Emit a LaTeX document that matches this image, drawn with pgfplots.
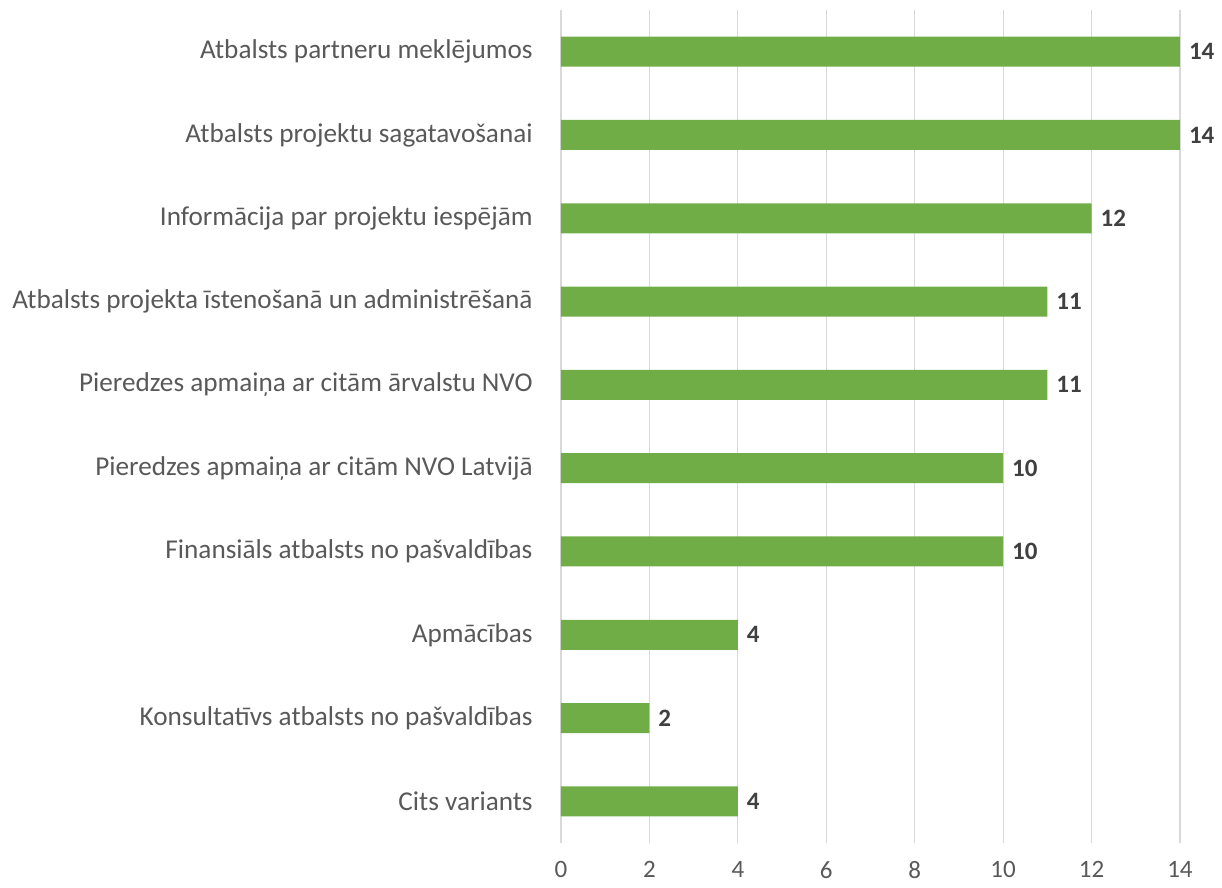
\documentclass[border=0pt]{standalone}
\usepackage{fontspec}
\setmainfont{Carlito}
\usepackage{pgfplots}
\pgfplotsset{compat=1.18}
\definecolor{barGreen}{HTML}{70AD47}
\definecolor{gridGray}{HTML}{D9D9D9}
\definecolor{labelGray}{HTML}{595959}
\definecolor{valueGray}{HTML}{404040}

\begin{document}
\begin{tikzpicture}
\begin{axis}[
  scale only axis,
  width=309.5pt,
  height=416.5pt,
  xbar,
  bar width=15pt,
  xmin=0, xmax=14,
  ymin=-0.5, ymax=9.5,
  y dir=reverse,
  xtick={0,2,...,14},
  ytick={0,...,9},
  yticklabels={
    Atbalsts partneru meklējumos,
    Atbalsts projektu sagatavošanai\ ,
    Informācija par projektu iespējām\ ,
    Atbalsts projekta īstenošanā un administrēšanā\ ,
    Pieredzes apmaiņa ar citām ārvalstu NVO,
    Pieredzes apmaiņa ar citām NVO Latvijā\ ,
    Finansiāls atbalsts no pašvaldības\ ,
    Apmācības\ ,
    Konsultatīvs atbalsts no pašvaldības\ ,
    Cits variants},
  axis line style={draw=none},
  major tick length=0pt,
  xmajorgrids,
  grid style={gridGray, line width=0.6pt},
  tick label style={text=labelGray},
  /pgf/number format/assume math mode=true,
  yticklabel style={font=\fontsize{13.6}{16}\selectfont, inner sep=0pt, xshift=-14pt},
  xticklabel style={font=\fontsize{12.5}{14}\selectfont, inner sep=0pt, yshift=-9pt},
  nodes near coords,
  nodes near coords style={font=\fontsize{12.5}{14}\selectfont\bfseries, text=valueGray, anchor=west, xshift=1pt},
  clip=false,
]
\addplot[fill=barGreen, draw=none] coordinates {
  (14,0) (14,1) (12,2) (11,3) (11,4) (10,5) (10,6) (4,7) (2,8) (4,9)
};
\end{axis}
\path (current axis.south west) ++(-280.5pt,-22pt);
\path (current axis.north east) ++(21pt,5pt);
\end{tikzpicture}
\end{document}
